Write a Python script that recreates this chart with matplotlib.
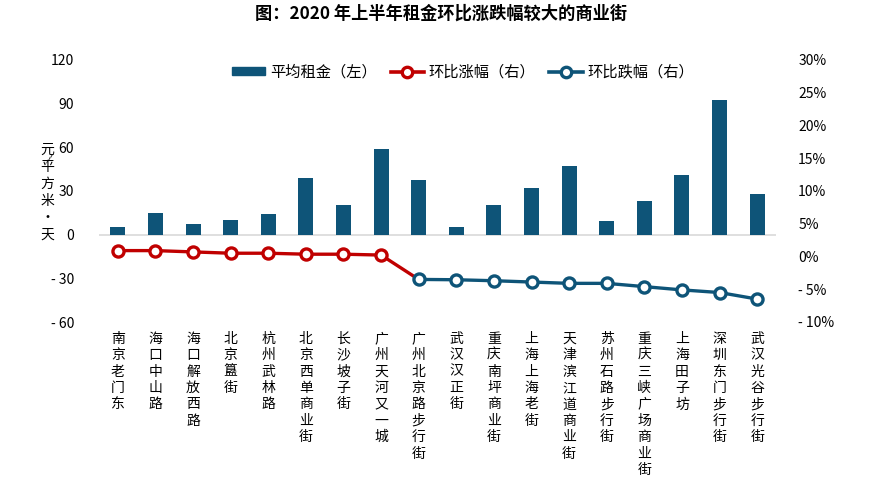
import matplotlib
matplotlib.use("Agg")
import matplotlib.pyplot as plt
import numpy as np
from matplotlib.lines import Line2D
from matplotlib.patches import Patch

plt.rcParams['font.family'] = ['Noto Sans CJK SC', 'DejaVu Sans']

categories = ["南京老门东", "海口中山路", "海口解放西路", "北京簋街", "杭州武林路",
              "北京西单商业街", "长沙坡子街", "广州天河又一城", "广州北京路步行街",
              "武汉汉正街", "重庆南坪商业街", "上海上海老街", "天津滨江道商业街",
              "苏州石路步行街", "重庆三峡广场商业街", "上海田子坊", "深圳东门步行街",
              "武汉光谷步行街"]
rent = [5.6, 15.2, 7.5, 9.8, 14.3, 39, 20.5, 59, 37.5,
        5.5, 20.3, 32, 47, 9.6, 23, 41, 92.5, 28]
rise_pct = [0.9, 0.9, 0.7, 0.5, 0.5, 0.35, 0.35, 0.22]          # 前8个
fall_pct = [-3.5, -3.55, -3.7, -3.9, -4.1, -4.1, -4.6, -5.1, -5.5, -6.5]  # 后10个
left_ticks = [-60, -30, 0, 30, 60, 90, 120]
left_labels = ["- 60", "- 30", "0", "30", "60", "90", "120"]
right_ticks = [-10, -5, 0, 5, 10, 15, 20, 25, 30]
right_labels = ["- 10%", "- 5%", "0%", "5%", "10%", "15%", "20%", "25%", "30%"]

bar_color = "#0E5478"
red = "#C00000"

fig = plt.figure(figsize=(8.72, 4.83), dpi=100)
ax = fig.add_axes([99/872, 1-322/483, 677/872, 262/483])
x = np.arange(len(categories))
ax.bar(x, rent, width=0.4, color=bar_color, zorder=2)
ax.axhline(0, color="#D9D9D9", lw=1.2, zorder=1)
ax.set_xlim(-0.5, len(categories) - 0.5)
ax.set_ylim(-60, 120)
ax.set_yticks(left_ticks)
ax.set_yticklabels(left_labels, fontsize=10)
ax.tick_params(axis='y', length=0, pad=18)
ax.set_xticks(x)
ax.set_xticklabels(["\n".join(c) for c in categories], fontsize=10,
                   va='top', linespacing=1.22)
ax.tick_params(axis='x', length=0, pad=7)
for s in ax.spines.values():
    s.set_visible(False)

ax2 = ax.twinx()
ax2.set_ylim(-10, 30)
ax2.set_yticks(right_ticks)
ax2.set_yticklabels(right_labels, fontsize=10)
ax2.tick_params(axis='y', length=0, pad=16)
for s in ax2.spines.values():
    s.set_visible(False)

n_rise = len(rise_pct)
# red line continues to first falling point
red_y = list(rise_pct) + [fall_pct[0]]
ax2.plot(x[:n_rise + 1], red_y, color=red, lw=2.4, zorder=3)
ax2.plot(x[:n_rise], rise_pct, ls='none', marker='o', ms=8, mfc='white',
         mec=red, mew=2.4, zorder=4)
ax2.plot(x[n_rise:], fall_pct, color=bar_color, lw=2.4, marker='o', ms=8,
         mfc='white', mec=bar_color, mew=2.4, zorder=5)

handles = [Patch(color=bar_color),
           Line2D([], [], color=red, lw=2.6, marker='o', ms=7.5, mfc='white', mec=red, mew=2.4),
           Line2D([], [], color=bar_color, lw=2.6, marker='o', ms=7.5, mfc='white', mec=bar_color, mew=2.4)]
labels = ["平均租金（左）", "环比涨幅（右）", "环比跌幅（右）"]
fig.legend(handles, labels, loc='center', bbox_to_anchor=(463/872, 1-72/483), ncol=3,
           frameon=False, fontsize=11, handlelength=2.2, handletextpad=0.3,
           columnspacing=0.9, handleheight=0.45)

fig.text(441/872, 1-14/483, "图：2020 年上半年租金环比涨跌幅较大的商业街",
         ha='center', va='center', fontsize=12.4, fontweight='bold')

ylabel_chars = "元平方米·天"
ylab_y = [150, 167, 184, 201, 218, 235]
for ch, yy in zip(ylabel_chars, ylab_y):
    fig.text(47/872, 1-yy/483, ch, ha='center', va='center', fontsize=10)
fig.text(49/872, 1-159/483, "/", ha='center', va='center', fontsize=8, rotation=-20)

fig.savefig("out.png", dpi=100)
